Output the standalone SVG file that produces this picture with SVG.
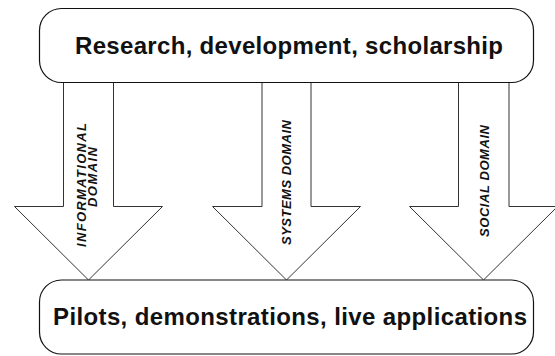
<svg xmlns="http://www.w3.org/2000/svg" width="555" height="356" viewBox="0 0 555 356">
<style>
.arrow{fill:#fff;stroke:#333;stroke-width:1;stroke-linejoin:miter}
.box{fill:#fff;stroke:#111;stroke-width:1.2}
.big{font-family:"Liberation Sans",Arial,sans-serif;font-weight:bold;font-size:24px;fill:#111;text-anchor:middle}
.lbl{font-family:"Liberation Sans",Arial,sans-serif;font-weight:bold;font-style:italic;font-size:13px;fill:#111;text-anchor:middle}
</style>
<rect width="555" height="356" fill="#fff"/>
<g id="connectors">
<g id="arrow-informational">
<polygon class="arrow" points="63.5,82 63.5,206.5 14.5,206.5 88.5,280 162.5,206.5 113.5,206.5 113.5,82"/>
<text class="lbl" transform="translate(85.5,185) rotate(-90)" textLength="124" lengthAdjust="spacing">INFORMATIONAL</text>
<text class="lbl" transform="translate(96.5,177) rotate(-90)" textLength="60" lengthAdjust="spacing">DOMAIN</text>
</g>
<g id="arrow-systems">
<polygon class="arrow" points="262,82 262,206.5 212.5,206.5 286.5,280 360.5,206.5 311,206.5 311,82"/>
<text class="lbl" transform="translate(290.5,182.5) rotate(-90)" textLength="125" lengthAdjust="spacing">SYSTEMS DOMAIN</text>
</g>
<g id="arrow-social">
<polygon class="arrow" points="458.5,82 458.5,206.5 409.5,206.5 483.5,280 557.5,206.5 509,206.5 509,82"/>
<text class="lbl" transform="translate(488.5,181) rotate(-90)" textLength="112" lengthAdjust="spacing">SOCIAL DOMAIN</text>
</g>
</g>
<g id="node-research">
<rect class="box" x="39.5" y="8.5" width="494" height="74" rx="22" ry="22"/>
<text class="big" x="289" y="54" textLength="428" lengthAdjust="spacing">Research, development, scholarship</text>
</g>
<g id="node-pilots">
<rect class="box" x="39.5" y="280" width="494" height="74" rx="22" ry="22"/>
<text class="big" x="290" y="325" textLength="474" lengthAdjust="spacing">Pilots, demonstrations, live applications</text>
</g>
</svg>
